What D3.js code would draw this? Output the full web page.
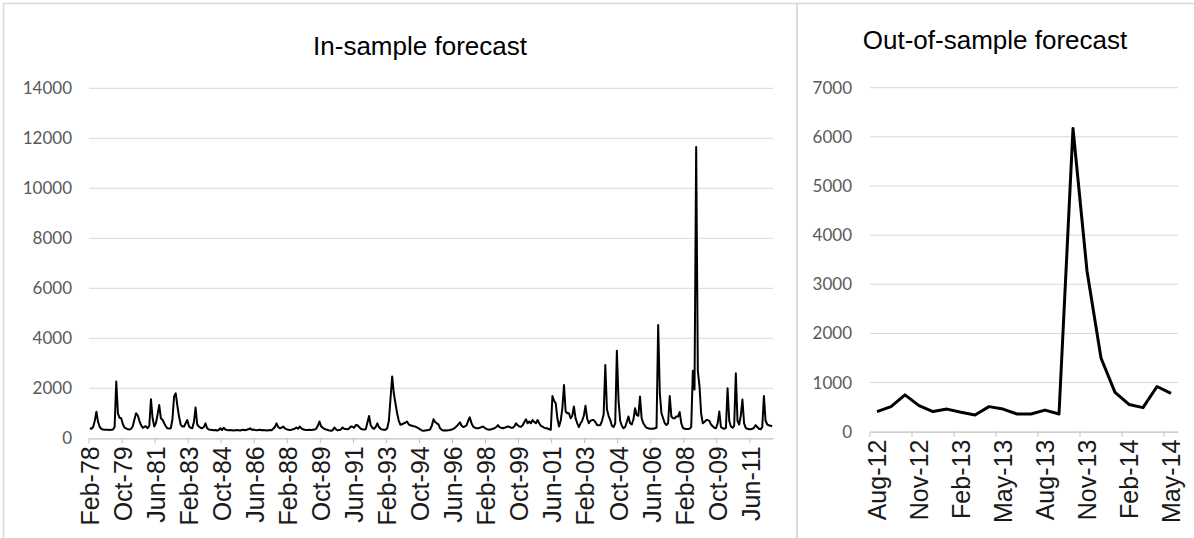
<!DOCTYPE html>
<html>
<head>
<meta charset="utf-8">
<script src="https://cdn.jsdelivr.net/npm/d3@7"></script>
<style>
  html, body { margin: 0; padding: 0; background: #fff; }
  svg { display: block; }
</style>
</head>
<body>
<svg id="chart" width="1194" height="538"></svg>
<script>
// ---------- DATA ----------
// In-sample forecast, monthly values Feb-78 ... Jul-12
const in1978_1982 = [
  400, 380, 450, 700, 1060, 650, 450, 380, 350, 340, 340,
  340, 330, 340, 350, 450, 2270, 1000, 820, 800, 560, 430, 400,
  360, 350, 380, 480, 750, 1000, 920, 700, 530, 420, 460, 480,
  400, 500, 1560, 800, 470, 600, 950, 1330, 800, 740, 600, 480,
  400, 390, 400, 750, 1670, 1800, 1300, 870, 550, 470, 470, 600
];
const in1983_1988 = [
  730, 480, 420, 400, 650, 1230, 560, 470, 420, 400, 450, 600,
  400, 350, 340, 330, 320, 330, 310, 330, 400, 330, 420, 350,
  330, 320, 330, 320, 310, 320, 330, 320, 310, 330, 340, 320,
  340, 360, 400, 340, 350, 330, 320, 330, 340, 320, 330, 320,
  310, 320, 330, 320, 380, 450, 600, 450, 400, 420, 470, 400,
  370, 340, 330, 340, 360, 380, 430, 380, 470, 400, 360, 340
];
const in1989_1994 = [
  330, 330, 340, 330, 340, 350, 380, 500, 670, 480, 420, 380,
  350, 330, 310, 300, 320, 430, 360, 320, 330, 360, 430, 380,
  370, 360, 400, 470, 460, 420, 530, 520, 450, 380, 360, 350,
  360, 620, 890, 520, 420, 380, 450, 600, 450, 380, 350, 340,
  340, 400, 700, 1600, 2470, 1800, 1400, 1000, 700, 540, 560, 600,
  620, 670, 560, 520, 500, 480, 470, 440, 400, 360, 310, 300
];
const in1995_2000 = [
  310, 320, 330, 360, 500, 760, 650, 600, 560, 400, 340, 310,
  320, 310, 320, 330, 350, 380, 420, 480, 560, 640, 500, 450,
  470, 520, 700, 840, 600, 470, 430, 400, 400, 420, 450, 470,
  420, 380, 350, 340, 360, 380, 400, 450, 530, 450, 420, 400,
  420, 450, 470, 460, 420, 420, 480, 600, 520, 470, 460, 520,
  650, 760, 600, 670, 600, 730, 650, 600, 730, 600, 500, 470
];
const in2001_2006 = [
  430, 400, 400, 360, 340, 1690, 1500, 1400, 800, 470, 700, 1200,
  2130, 1070, 1000, 1000, 800, 900, 1270, 800, 600, 450, 600, 700,
  900, 1300, 800, 600, 700, 730, 730, 650, 530, 520, 530, 700,
  950, 2930, 1150, 900, 730, 500, 450, 600, 3500, 1530, 700, 500,
  400, 450, 650, 870, 600, 550, 750, 1200, 930, 900, 1670, 800,
  600, 500, 420, 400, 380, 380, 380, 400, 420, 4530, 1800, 1000
];
const in2007_2012 = [
  800, 600, 530, 600, 1690, 870, 800, 800, 870, 870, 1050, 600,
  420, 380, 370, 370, 380, 450, 2700, 1950, 11650, 2700, 2100, 1000,
  600, 650, 730, 730, 700, 550, 480, 420, 400, 600, 1070, 450,
  400, 380, 420, 2000, 700, 480, 420, 500, 2600, 700, 550, 900,
  1550, 600, 420, 380, 360, 360, 380, 420, 530, 450, 380, 360,
  450, 1690, 700, 560, 520, 500, 480
];
const inTickLabels = ["Feb-78","Oct-79","Jun-81","Feb-83","Oct-84","Jun-86","Feb-88",
  "Oct-89","Jun-91","Feb-93","Oct-94","Jun-96","Feb-98","Oct-99","Jun-01","Feb-03",
  "Oct-04","Jun-06","Feb-08","Oct-09","Jun-11"];
const inYTicks = [0, 2000, 4000, 6000, 8000, 10000, 12000, 14000];

// Out-of-sample forecast, Aug-12 ... May-14
const outMonths = ["Aug-12","Sep-12","Oct-12","Nov-12","Dec-12","Jan-13","Feb-13","Mar-13",
  "Apr-13","May-13","Jun-13","Jul-13","Aug-13","Sep-13","Oct-13","Nov-13","Dec-13",
  "Jan-14","Feb-14","Mar-14","Apr-14","May-14"];
const outValues = [410, 510, 750, 530, 410, 460, 395, 340, 510, 460, 360, 360,
  440, 360, 6170, 3270, 1500, 800, 555, 490, 920, 780];
const outTickLabels = ["Aug-12","Nov-12","Feb-13","May-13","Aug-13","Nov-13","Feb-14","May-14"];
const outYTicks = [0, 1000, 2000, 3000, 4000, 5000, 6000, 7000];

const inValues = [].concat(in1978_1982, in1983_1988, in1989_1994, in1995_2000, in2001_2006, in2007_2012);

// ---------- DRAW ----------
const svg = d3.select("#chart");
const gridColor = "#d9d9d9";
const axisColor = "#bfbfbf";
const labelColor = "#595959";
const fontFam = "'Liberation Sans', Arial, sans-serif";

// panel borders
svg.append("rect").attr("x", 3.5).attr("y", 3.5).attr("width", 793.5).attr("height", 540)
  .attr("fill", "none").attr("stroke", gridColor).attr("stroke-width", 1.5);
svg.append("rect").attr("x", 797).attr("y", 3.5).attr("width", 400).attr("height", 540)
  .attr("fill", "none").attr("stroke", gridColor).attr("stroke-width", 1.5);

function drawPanel(cfg) {
  const g = svg.append("g");
  const n = cfg.values.length;
  const x = d3.scaleBand().domain(d3.range(n)).range([cfg.x0, cfg.x1]).paddingInner(0).paddingOuter(0);
  const y = d3.scaleLinear().domain([0, cfg.yMax]).range([cfg.y0, cfg.y1]);

  // gridlines
  g.append("g").selectAll("line").data(cfg.yTicks.filter(d => d > 0)).join("line")
    .attr("x1", cfg.x0).attr("x2", cfg.x1)
    .attr("y1", d => y(d)).attr("y2", d => y(d))
    .attr("stroke", gridColor).attr("stroke-width", 1);

  // y labels
  g.append("g").selectAll("text").data(cfg.yTicks).join("text")
    .attr("x", cfg.yLabelX).attr("y", d => y(d))
    .attr("dy", "0.35em").attr("text-anchor", "end")
    .attr("font-family", "Lato, 'Open Sans', sans-serif").attr("font-size", cfg.yFont)
    .attr("fill", labelColor).text(d => d);

  // x axis
  const xAxis = d3.axisBottom(x)
    .tickValues(cfg.tickIdx)
    .tickSize(5).tickSizeOuter(0)
    .tickFormat((d) => cfg.labelOf(d));
  const ax = g.append("g").attr("transform", `translate(0,${cfg.y0})`).call(xAxis);
  ax.select(".domain").attr("stroke", axisColor).attr("stroke-width", 1.2);
  ax.selectAll(".tick line").attr("stroke", axisColor)
    .attr("transform", d => `translate(${cfg.tickShift(x)},0)`);
  ax.selectAll(".tick text")
    .attr("font-family", fontFam).attr("font-size", cfg.xFont).attr("fill", "#1a1a1a")
    .attr("transform", "rotate(-90)")
    .attr("text-anchor", "end")
    .attr("x", -8).attr("y", 0).attr("dy", "0.36em");

  // line
  const line = d3.line().x((d, i) => x(i) + x.bandwidth() / 2).y(d => y(d)).curve(d3.curveLinear);
  g.append("path").datum(cfg.values)
    .attr("d", line).attr("fill", "none").attr("stroke", "#000")
    .attr("stroke-width", cfg.lineW).attr("stroke-linejoin", "round");

  // title
  g.append("text").attr("x", cfg.titleX).attr("y", cfg.titleY)
    .attr("text-anchor", "middle").attr("font-family", fontFam)
    .attr("font-size", 26).attr("fill", "#000").text(cfg.title);
}

const inTickIdx = inTickLabels.map((d, k) => k * 20);
drawPanel({
  values: inValues, x0: 89, x1: 773, y0: 438.3, y1: 88.3, yMax: 14000,
  yTicks: inYTicks, yLabelX: 72, yFont: 17, xFont: 25,
  tickIdx: inTickIdx,
  labelOf: d => inTickLabels[d / 20],
  tickShift: x => -x.bandwidth() / 2,
  lineW: 2, title: "In-sample forecast", titleX: 420, titleY: 55
});

const outTickIdx = outTickLabels.map(l => outMonths.indexOf(l));
drawPanel({
  values: outValues, x0: 870, x1: 1178, y0: 431.7, y1: 87.7, yMax: 7000,
  yTicks: outYTicks, yLabelX: 852, yFont: 17, xFont: 25,
  tickIdx: outTickIdx,
  labelOf: d => outMonths[d],
  tickShift: x => -x.bandwidth() / 2,
  lineW: 3, title: "Out-of-sample forecast", titleX: 995, titleY: 49
});
</script>
</body>
</html>
